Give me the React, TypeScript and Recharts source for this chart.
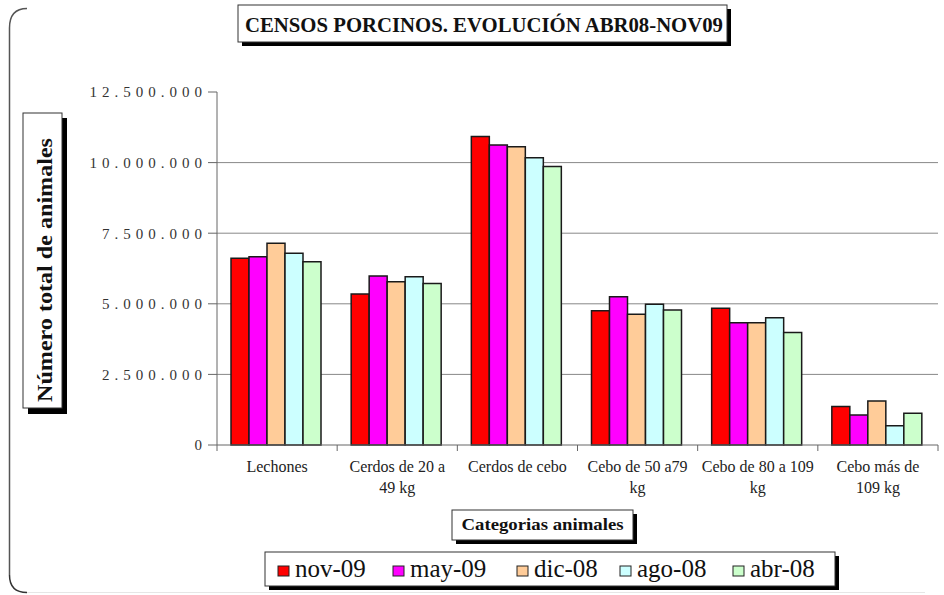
import React from "react";
import { BarChart, Bar, XAxis, YAxis, CartesianGrid } from "recharts";

const categories = [
  "Lechones",
  "Cerdos de 20 a\n49 kg",
  "Cerdos de cebo",
  "Cebo de 50 a79\nkg",
  "Cebo de 80 a 109\nkg",
  "Cebo más de\n109 kg",
];
const seriesNames = ["nov-09", "may-09", "dic-08", "ago-08", "abr-08"];
const nov09 = [6610000, 5350000, 10920000, 4750000, 4840000, 1360000];
const may09 = [6670000, 5980000, 10620000, 5250000, 4330000, 1060000];
const dic08 = [7140000, 5780000, 10560000, 4630000, 4330000, 1560000];
const ago08 = [6790000, 5960000, 10170000, 4980000, 4510000, 680000];
const abr08 = [6490000, 5720000, 9860000, 4780000, 3980000, 1120000];
const yTicks = [0, 2500000, 5000000, 7500000, 10000000, 12500000];
const gridValues = [2500000, 5000000, 7500000, 10000000];

const title = "CENSOS PORCINOS. EVOLUCIÓN ABR08-NOV09";
const yTitle = "Número total de animales";
const xTitle = "Categorias animales";

const colors = ["#FF0000", "#FF00FF", "#FFCC99", "#CCFFFF", "#CCFFCC"];
const seriesValues = [nov09, may09, dic08, ago08, abr08];

const data = categories.map((c, i) => {
  const row: Record<string, string | number> = { category: c };
  seriesNames.forEach((s, j) => {
    row[s] = seriesValues[j][i];
  });
  return row;
});

const FONT = "'Liberation Serif', 'DejaVu Serif', serif";

const fmt = (v: number) => String(v).replace(/\B(?=(\d{3})+(?!\d))/g, ".");

const XTick = (props: any) => {
  const { x, y, payload } = props;
  const lines = String(payload.value).split("\n");
  const half = payload.offset ?? 60;
  return (
    <g>
      <line x1={x + half} y1={y - 8} x2={x + half} y2={y - 2} stroke="#666" strokeWidth={1} />
      {payload.index === 0 && (
        <line x1={x - half} y1={y - 8} x2={x - half} y2={y - 2} stroke="#666" strokeWidth={1} />
      )}
      <text x={x} y={y + 19} textAnchor="middle" fontFamily={FONT} fontSize={16} fill="#222">
        {lines.map((l, i) => (
          <tspan key={i} x={x} dy={i === 0 ? 0 : 21}>
            {l}
          </tspan>
        ))}
      </text>
    </g>
  );
};

const legendMarkerX = [278, 393, 517, 620, 733];

const Overlay = () => (
  <svg
    width={944}
    height={595}
    style={{ position: "absolute", left: 0, top: 0, pointerEvents: "none" }}
  >
    {/* outer frame */}
    <path d="M 9.5 575 L 9.5 28 Q 9.5 8.5 27 8.5" fill="none" stroke="#555" strokeWidth={1.5} />
    <path d="M 9.5 575 Q 9.5 592.5 27 592.5" fill="none" stroke="#333" strokeWidth={1.5} />
    <path d="M 27 592.5 L 925 592.5" fill="none" stroke="#e6e6e6" strokeWidth={1} />

    {/* title */}
    <rect x={242} y={9} width={489} height={37} fill="#000" />
    <rect x={238} y={5} width={489} height={37} fill="#fff" stroke="#333" strokeWidth={1} />
    <text
      x={484}
      y={32}
      textAnchor="middle"
      fontFamily={FONT}
      fontWeight="bold"
      fontSize={20}
      fill="#111"
      textLength={478}
      lengthAdjust="spacingAndGlyphs"
    >
      {title}
    </text>

    {/* y title */}
    <rect x={28} y={118} width={39} height={296} fill="#000" />
    <rect x={23} y={113} width={39} height={295} fill="#fff" stroke="#333" strokeWidth={1} />
    <text
      x={0}
      y={0}
      transform="translate(52,270) rotate(-90)"
      textAnchor="middle"
      fontFamily={FONT}
      fontWeight="bold"
      fontSize={21}
      fill="#111"
      textLength={264}
      lengthAdjust="spacingAndGlyphs"
    >
      {yTitle}
    </text>

    {/* x title */}
    <rect x={456} y={514} width={181} height={30} fill="#000" />
    <rect x={452} y={510} width={181} height={30} fill="#fff" stroke="#333" strokeWidth={1} />
    <text
      x={542.5}
      y={530}
      textAnchor="middle"
      fontFamily={FONT}
      fontWeight="bold"
      fontSize={16}
      fill="#111"
      textLength={162}
      lengthAdjust="spacingAndGlyphs"
    >
      {xTitle}
    </text>

    {/* legend */}
    <rect x={269} y={556} width={570} height={34} fill="#000" />
    <rect x={265} y={552} width={570} height={34} fill="#fff" stroke="#333" strokeWidth={1} />
    {seriesNames.map((s, i) => (
      <g key={s}>
        <rect x={legendMarkerX[i]} y={566} width={11} height={10} fill={colors[i]} stroke="#222" strokeWidth={1} />
        <text x={legendMarkerX[i] + 17} y={577} fontFamily={FONT} fontSize={25} fill="#111">
          {s}
        </text>
      </g>
    ))}
  </svg>
);

export default function App() {
  return (
    <div style={{ position: "absolute", left: 0, top: 0, width: 944, height: 595, background: "#fff" }}>
      <BarChart
        width={944}
        height={595}
        data={data}
        margin={{ top: 92, right: 6, bottom: 90, left: 0 }}
        barGap={0}
        barCategoryGap={14}
      >
        <CartesianGrid vertical={false} horizontalValues={gridValues} stroke="#888" strokeWidth={1} />
        <XAxis
          dataKey="category"
          height={60}
          interval={0}
          axisLine={{ stroke: "#666" }}
          tickLine={false}
          tick={<XTick />}
        />
        <YAxis
          width={217}
          domain={[0, 12500000]}
          ticks={yTicks}
          interval={0}
          tickFormatter={fmt}
          axisLine={{ stroke: "#666" }}
          tickLine={{ stroke: "#666" }}
          tickSize={9}
          tickMargin={1}
          tick={{ fontFamily: FONT, fontSize: 15, fill: "#333", letterSpacing: 5 }}
        />
        {seriesNames.map((s, i) => (
          <Bar
            key={s}
            dataKey={s}
            fill={colors[i]}
            stroke="#1a1a1a"
            strokeWidth={1.5}
            isAnimationActive={false}
          />
        ))}
      </BarChart>
      <Overlay />
    </div>
  );
}
